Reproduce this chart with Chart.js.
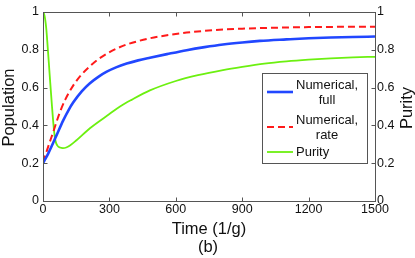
<!DOCTYPE html>
<html>
<head>
<meta charset="utf-8">
<script src="https://cdn.jsdelivr.net/npm/chart.js@4.4.1/dist/chart.umd.min.js"></script>
<style>
html,body{margin:0;padding:0;background:#fff;}
#wrap{width:415px;height:258px;position:relative;}
</style>
</head>
<body>
<div id="wrap"><canvas id="c" width="415" height="258"></canvas></div>
<script>
// ---- data ----
const fullTime  = [0,12,24,40,62,92,115,137,175,212,250,288,330,378,430,483,560,649,730,813,900,980,1100,1200,1300,1400,1500];
const fullPop   = [0.2,0.225,0.252,0.292,0.35,0.428,0.48,0.522,0.58,0.623,0.657,0.684,0.707,0.727,0.744,0.758,0.777,0.798,0.814,0.828,0.839,0.847,0.855,0.861,0.865,0.868,0.87];

const rateTime  = [0,15,30,47,60,77,100,137,175,212,250,288,330,378,430,483,560,649,730,813,900,980,1100,1200,1300,1400,1500];
const ratePop   = [0.205,0.258,0.31,0.368,0.415,0.472,0.535,0.612,0.67,0.713,0.75,0.779,0.805,0.828,0.846,0.861,0.877,0.891,0.9,0.907,0.912,0.915,0.918,0.92,0.921,0.922,0.922];

const purityTime = [0,5,10,15,19,30,40,50,56,65,77,90,105,120,150,212,300,348,400,483,600,700,813,900,1000,1100,1200,1300,1400,1500];
const purity     = [1,0.99,0.96,0.91,0.85,0.67,0.51,0.37,0.32,0.293,0.283,0.28,0.283,0.292,0.32,0.385,0.46,0.5,0.535,0.585,0.635,0.666,0.693,0.71,0.727,0.739,0.748,0.755,0.76,0.763];

const xTickValues = [0,300,600,900,1200,1500];
const xTickLabels = ['0','300','600','900','1200','1500'];
const yTickValues = [0,0.2,0.4,0.6,0.8,1];
const yTickLabels = ['0','0.2','0.4','0.6','0.8','1'];

const seriesNames = [['Numerical,','full'],['Numerical,','rate'],['Purity']];

const toPts = (xs, ys) => xs.map((x, i) => ({x: x, y: ys[i]}));

const FONT = '"Liberation Sans", Arial, Helvetica, sans-serif';

function setTicks(values) {
  return function(scale) { scale.ticks = values.map(v => ({value: v})); };
}
function labelFrom(values, labels) {
  return function(v) { const i = values.indexOf(v); return i >= 0 ? labels[i] : ''; };
}

const framePlugin = {
  id: 'frame',
  afterDatasetsDraw(chart) {
    const ctx = chart.ctx, a = chart.chartArea;
    const x = chart.scales.x, y = chart.scales.y, y2 = chart.scales.y2;
    ctx.save();
    ctx.strokeStyle = '#555';
    ctx.lineWidth = 1;
    const L = Math.round(a.left) + 0.5, R = Math.round(a.right) + 0.5;
    const T = Math.round(a.top) + 0.5, B = Math.round(a.bottom) + 0.5;
    ctx.strokeRect(L, T, R - L, B - T);
    const tl = 4;
    ctx.beginPath();
    xTickValues.forEach(v => {
      const px = Math.round(x.getPixelForValue(v)) + 0.5;
      ctx.moveTo(px, B); ctx.lineTo(px, B - tl);
      ctx.moveTo(px, T); ctx.lineTo(px, T + tl);
    });
    yTickValues.forEach(v => {
      const py = Math.round(y.getPixelForValue(v)) + 0.5;
      ctx.moveTo(L, py); ctx.lineTo(L + tl, py);
      const py2 = Math.round(y2.getPixelForValue(v)) + 0.5;
      ctx.moveTo(R, py2); ctx.lineTo(R - tl, py2);
    });
    ctx.stroke();

    // axis titles
    ctx.fillStyle = '#111';
    ctx.font = '16.5px ' + FONT;
    ctx.textAlign = 'center';
    ctx.textBaseline = 'middle';
    const cx = (a.left + a.right) / 2;
    ctx.fillText('Time (1/g)', cx, 229);
    ctx.fillText('(b)', cx - 1, 247);
    ctx.save();
    ctx.translate(9, 107.5);
    ctx.rotate(-Math.PI / 2);
    ctx.fillText('Population', 0, 0);
    ctx.restore();
    ctx.save();
    ctx.translate(407, 108);
    ctx.rotate(-Math.PI / 2);
    ctx.fillText('Purity', 0, 0);
    ctx.restore();

    // legend
    const bx = 262, by = 73, bw = 105, bh = 90;
    ctx.fillStyle = '#fff';
    ctx.fillRect(bx, by, bw, bh);
    ctx.strokeStyle = '#555';
    ctx.strokeRect(bx + 0.5, by + 0.5, bw, bh);
    const ds = chart.data.datasets;
    const rows = [
      {ly: 92, lines: [[296, 85, 'left'], [327, 100.5, 'center']]},
      {ly: 127, lines: [[296, 120, 'left'], [327, 135, 'center']]},
      {ly: 152, lines: [[296, 152.5, 'left']]}
    ];
    ctx.font = '13px ' + FONT;
    rows.forEach((r, i) => {
      const d = ds[i];
      ctx.save();
      ctx.strokeStyle = d.borderColor;
      ctx.lineWidth = d.borderWidth;
      ctx.setLineDash(d.borderDash || []);
      ctx.beginPath();
      ctx.moveTo(267, r.ly); ctx.lineTo(293, r.ly);
      ctx.stroke();
      ctx.restore();
      ctx.fillStyle = '#111';
      r.lines.forEach((ln, j) => {
        ctx.textAlign = ln[2];
        ctx.fillText(seriesNames[i][j], ln[0], ln[1]);
      });
    });
    ctx.restore();
  }
};

new Chart(document.getElementById('c'), {
  type: 'line',
  data: {
    datasets: [
      {label: 'Numerical, full', data: toPts(fullTime, fullPop), borderColor: '#2147ff', borderWidth: 2.6,
       pointRadius: 0, cubicInterpolationMode: 'monotone', yAxisID: 'y', fill: false},
      {label: 'Numerical, rate', data: toPts(rateTime, ratePop), borderColor: '#ff1a1a', borderWidth: 2,
       borderDash: [7, 4], pointRadius: 0, cubicInterpolationMode: 'monotone', yAxisID: 'y', fill: false},
      {label: 'Purity', data: toPts(purityTime, purity), borderColor: '#6cf010', borderWidth: 1.8,
       pointRadius: 0, cubicInterpolationMode: 'monotone', yAxisID: 'y2', fill: false}
    ]
  },
  options: {
    responsive: false,
    animation: false,
    devicePixelRatio: 1,
    layout: {padding: {top: 12, left: 0, right: 0, bottom: 0}},
    plugins: {legend: {display: false}, tooltip: {enabled: false}},
    scales: {
      x: {
        type: 'linear', min: 0, max: 1500,
        afterBuildTicks: setTicks(xTickValues),
        afterFit: s => { s.height = 57; },
        grid: {display: false, drawTicks: false},
        border: {display: false},
        ticks: {autoSkip: false, maxRotation: 0, padding: 1, color: '#111',
                font: {family: FONT, size: 12.5}, callback: labelFrom(xTickValues, xTickLabels)}
      },
      y: {
        type: 'linear', position: 'left', min: 0, max: 1,
        afterBuildTicks: setTicks(yTickValues),
        afterFit: s => { s.width = 43; },
        grid: {display: false, drawTicks: false},
        border: {display: false},
        ticks: {padding: 4, color: '#111', font: {family: FONT, size: 12.5},
                callback: labelFrom(yTickValues, yTickLabels)}
      },
      y2: {
        type: 'linear', position: 'right', min: 0, max: 1,
        afterBuildTicks: setTicks(yTickValues),
        afterFit: s => { s.width = 40; },
        grid: {display: false, drawTicks: false},
        border: {display: false},
        ticks: {padding: 2, color: '#111', font: {family: FONT, size: 12.5},
                callback: labelFrom(yTickValues, yTickLabels)}
      }
    }
  },
  plugins: [framePlugin]
});
</script>
</body>
</html>
